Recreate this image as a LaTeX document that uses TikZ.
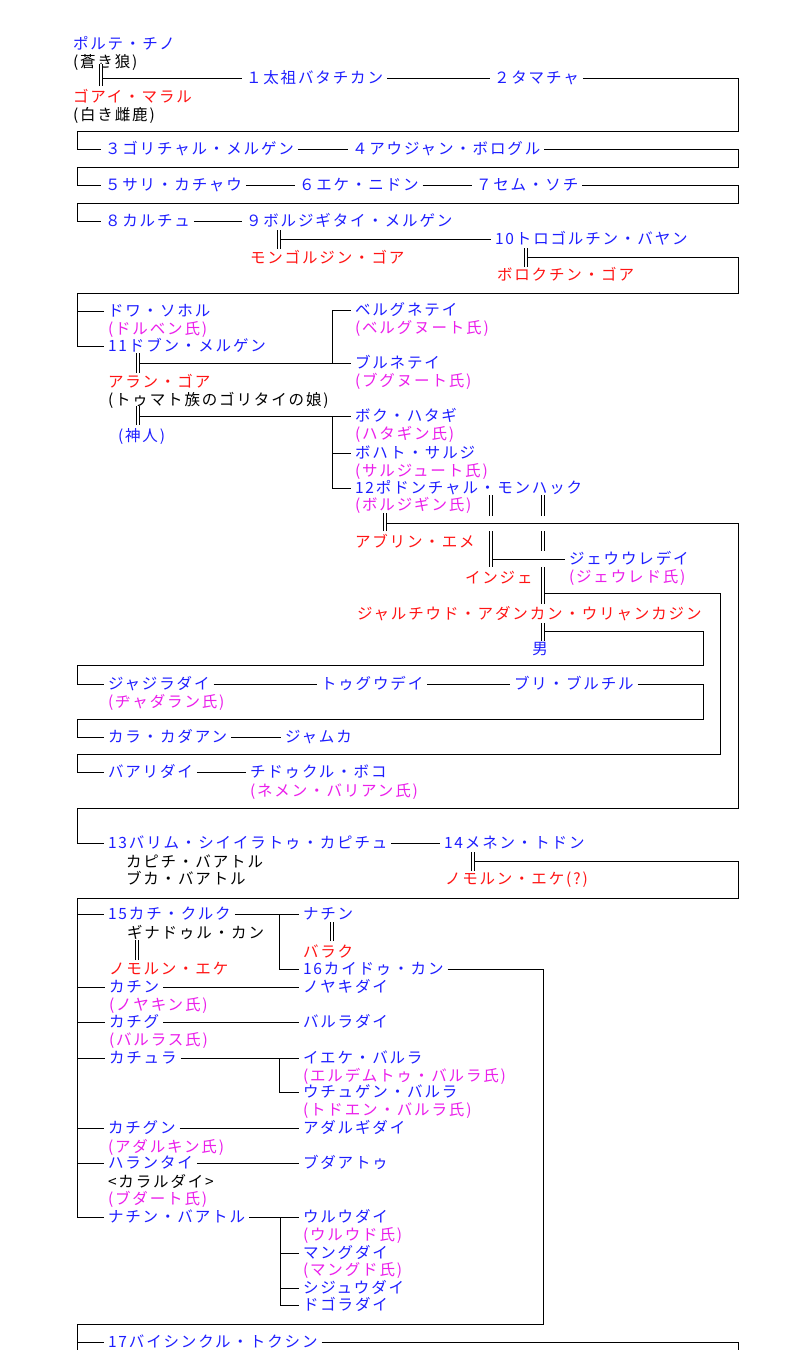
\documentclass[tikz,border=0pt]{standalone}
\usepackage{fontspec}
\newfontfamily\jp[LetterSpace=12]{Noto Sans CJK JP}
\definecolor{cb}{RGB}{30,30,255}
\definecolor{cr}{RGB}{255,20,20}
\definecolor{cm}{RGB}{235,30,235}
\tikzset{
  base/.style={anchor=west, inner xsep=4pt, inner ysep=0pt, outer sep=0pt,
    text height=13pt, text depth=2pt, font=\jp\fontsize{15.5pt}{18pt}\selectfont},
  nb/.style={base, text=cb},
  nr/.style={base, text=cr},
  nm/.style={base, text=cm},
  nk/.style={base, text=black},
  ln/.style={draw=black, line width=0.9pt},
  dbl/.style={draw=black, double=white, double distance=1.6pt, line width=0.8pt}
}
\begin{document}
\begin{tikzpicture}[x=1pt,y=-1pt]
\useasboundingbox (0,0) rectangle (800,1350);
\fill[white] (0,0) rectangle (800,1350);
\coordinate (L) at (77,0);
\coordinate (R) at (738,0);

% ================= NODES
% generations 1-10
\node[nb] (pc) at (69,44) {ポルテ・チノ};
\node[nk] (pcs) at (69,62) {(蒼き狼)};
\node[nr] (gm) at (69,97) {ゴアイ・マラル};
\node[nk] (gms) at (69,115) {(白き雌鹿)};
\coordinate (m0) at (101,78);
\node[nb] (g1) at (242,78) {１太祖バタチカン};
\node[nb] (g2) at (490,78) {２タマチャ};
\node[nb] (g3) at (101,149) {３ゴリチャル・メルゲン};
\node[nb] (g4) at (348,149) {４アウジャン・ボログル};
\node[nb] (g5) at (101,185) {５サリ・カチャウ};
\node[nb] (g6) at (295,185) {６エケ・ニドン};
\node[nb] (g7) at (472,185) {７セム・ソチ};
\node[nb] (g8) at (101,221) {８カルチュ};
\node[nb] (g9) at (242,221) {９ボルジギタイ・メルゲン};
\node[nr] (w9) at (246,258) {モンゴルジン・ゴア};
\coordinate (m9) at (279,239);
\node[nb] (g10) at (491,239) {10トロゴルチン・バヤン};
\node[nr] (w10) at (493,275) {ボロクチン・ゴア};
\coordinate (m10) at (526,257);

% Dobun Mergen
\node[nb] (d1) at (104,311) {ドワ・ソホル};
\node[nm] (d1s) at (104,329) {(ドルベン氏)};
\node[nb] (g11) at (104,346) {11ドブン・メルゲン};
\node[nr] (w11) at (104,382) {アラン・ゴア};
\node[nk] (w11s) at (104,400) {(トゥマト族のゴリタイの娘)};
\node[nb] (shin) at (114,436) {(神人)};
\coordinate (m11) at (138,363);
\coordinate (m11b) at (138,416);
\node[nb] (b1) at (351,310) {ベルグネテイ};
\node[nm] (b1s) at (351,328) {(ベルグヌート氏)};
\node[nb] (b2) at (351,363) {ブルネテイ};
\node[nm] (b2s) at (351,381) {(ブグヌート氏)};
\node[nb] (c1) at (351,416) {ボク・ハタギ};
\node[nm] (c1s) at (351,434) {(ハタギン氏)};
\node[nb] (c2) at (351,453) {ボハト・サルジ};
\node[nm] (c2s) at (351,471) {(サルジュート氏)};
\node[nb] (g12) at (351,488) {12ポドンチャル・モンハック};
\node[nm] (g12s) at (351,505) {(ボルジギン氏)};
\coordinate (j11) at (332,363);
\coordinate (j11b) at (332,416);

% Bodonchar
\coordinate (m12) at (385,523);
\coordinate (p2) at (491,559);
\coordinate (p3) at (543,593);
\coordinate (p4) at (543,631);
\node[nr] (w12) at (351,542) {アブリン・エメ};
\node[nr] (inje) at (461,578) {インジェ};
\node[nb] (jeu) at (565,559) {ジェウウレデイ};
\node[nm] (jeus) at (565,577) {(ジェウレド氏)};
\node[nr] (jar) at (353,614) {ジャルチウド・アダンカン・ウリャンカジン};
\node[nb, anchor=center] (otoko) at (540,649) {男};

% collateral lines
\node[nb] (j1) at (104,684) {ジャジラダイ};
\node[nm] (j1s) at (104,702) {(ヂャダラン氏)};
\node[nb] (j2) at (317,684) {トゥグウデイ};
\node[nb] (j3) at (510,684) {ブリ・ブルチル};
\node[nb] (k1) at (104,737) {カラ・カダアン};
\node[nb] (k2) at (281,737) {ジャムカ};
\node[nb] (l1) at (104,772) {バアリダイ};
\node[nb] (l2) at (246,772) {チドゥクル・ボコ};
\node[nm] (l2s) at (246,791) {(ネメン・バリアン氏)};

% 13 - 14
\node[nb] (g13) at (104,843) {13バリム・シイイラトゥ・カピチュ};
\node[nk] (g13a) at (122,862) {カピチ・バアトル};
\node[nk] (g13b) at (122,879) {ブカ・バアトル};
\node[nb] (g14) at (440,843) {14メネン・トドン};
\node[nr] (w14) at (441,879) {ノモルン・エケ(?)};
\coordinate (m14) at (473,861);

% 15 and brothers
\node[nb] (g15) at (104,914) {15カチ・クルク};
\node[nk] (g15a) at (123,933) {ギナドゥル・カン};
\node[nr] (w15) at (105,969) {ノモルン・エケ};
\coordinate (m15) at (137,950);
\node[nb] (nachin) at (299,914) {ナチン};
\node[nr] (baraku) at (299,952) {バラク};
\coordinate (m15b) at (332,932);
\node[nb] (g16) at (299,969) {16カイドゥ・カン};
\coordinate (j15) at (279,914);

\node[nb] (kachin) at (105,987) {カチン};
\node[nm] (kachins) at (105,1005) {(ノヤキン氏)};
\node[nb] (noyaki) at (299,987) {ノヤキダイ};
\node[nb] (kachigu) at (105,1022) {カチグ};
\node[nm] (kachigus) at (105,1040) {(バルラス氏)};
\node[nb] (barula) at (299,1022) {バルラダイ};
\node[nb] (kachura) at (105,1058) {カチュラ};
\node[nb] (ieke) at (299,1058) {イエケ・バルラ};
\node[nm] (iekes) at (299,1076) {(エルデムトゥ・バルラ氏)};
\node[nb] (uchu) at (299,1092) {ウチュゲン・バルラ};
\node[nm] (uchus) at (299,1110) {(トドエン・バルラ氏)};
\coordinate (j16) at (279,1058);
\node[nb] (kachigun) at (104,1128) {カチグン};
\node[nm] (kachiguns) at (104,1147) {(アダルキン氏)};
\node[nb] (adaru) at (299,1128) {アダルギダイ};
\node[nb] (haran) at (104,1163) {ハランタイ};
\node[nk] (harana) at (104,1182) {<カラルダイ>};
\node[nm] (harans) at (104,1199) {(ブダート氏)};
\node[nb] (buda) at (299,1163) {ブダアトゥ};
\node[nb] (nbt) at (104,1217) {ナチン・バアトル};
\node[nb] (uru) at (299,1217) {ウルウダイ};
\node[nm] (urus) at (299,1235) {(ウルウド氏)};
\node[nb] (mang) at (299,1253) {マングダイ};
\node[nm] (mangs) at (299,1270) {(マングド氏)};
\node[nb] (shiju) at (299,1288) {シジュウダイ};
\node[nb] (dogo) at (299,1305) {ドゴラダイ};
\coordinate (j17) at (280,1217);

% 17
\node[nb] (g17) at (104,1342) {17バイシンクル・トクシン};

% ================= CONNECTORS
\draw[ln] (m0) -- (g1.west);
\draw[ln] (g1.east) -- (g2.west);
\draw[ln] (g2.east) -| (738,131) -- (77,131) |- (g3.west);
\draw[ln] (g3.east) -- (g4.west);
\draw[ln] (g4.east) -| (738,167) -- (77,167) |- (g5.west);
\draw[ln] (g5.east) -- (g6.west);
\draw[ln] (g6.east) -- (g7.west);
\draw[ln] (g7.east) -| (738,203) -- (77,203) |- (g8.west);
\draw[ln] (g8.east) -- (g9.west);
\draw[ln] (m9) -- (g10.west);
\draw[ln] (m10) -| (738,293) -- (77,293) |- (g11.west);
\draw[dbl] ([yshift=-8pt]m0) -- ([yshift=14pt]m0);
\draw[dbl] ([yshift=-10pt]m9) -- ([yshift=9pt]m9);
\draw[dbl] ([yshift=-10pt]m10) -- ([yshift=9pt]m10);

\draw[ln] (d1.west) -- (d1.west -| L);
\draw[ln] (m11) -- (b2.west);
\draw[ln] (j11) |- (b1.west);
\draw[ln] (m11b) -- (c1.west);
\draw[ln] (j11b) |- (g12.west);
\draw[ln] (c2.west -| j11) -- (c2.west);
\draw[dbl] ([yshift=-10pt]m11) -- ([yshift=10pt]m11);
\draw[dbl] ([yshift=-9pt]m11b) -- ([yshift=10pt]m11b);

\draw[ln] (m12) -| (738,808) -- (77,808) |- (g13.west);
\draw[ln] (p2) -- (jeu.west);
\draw[ln] (p3) -| (720,754) -- (77,754) |- (l1.west);
\draw[ln] (p4) -| (703,665) -- (77,665) |- (j1.west);
\draw[dbl] ([yshift=-8pt]m12) -- ([yshift=10pt]m12);
\draw[dbl] (491,495) -- (491,516);
\draw[dbl] (491,531) -- (p2) -- (491,567);
\draw[dbl] (543,495) -- (543,516);
\draw[dbl] (543,531) -- (543,551);
\draw[dbl] (543,567) -- (p3) -- (543,604);
\draw[dbl] (543,623) -- (p4) -- (543,641);

\draw[ln] (j1.east) -- (j2.west);
\draw[ln] (j2.east) -- (j3.west);
\draw[ln] (j3.east) -| (703,719) -- (77,719) |- (k1.west);
\draw[ln] (k1.east) -- (k2.west);
\draw[ln] (l1.east) -- (l2.west);

\draw[ln] (g13.east) -- (g14.west);
\draw[ln] (m14) -| (738,898) -- (77,898) |- (nbt.west);
\draw[dbl] ([yshift=-10pt]m14) -- ([yshift=9pt]m14);

\draw[ln] (g15.west -| L) -- (g15.west);
\draw[ln] (g15.east) -- (nachin.west);
\draw[ln] (j15) |- (g16.west);
\draw[dbl] ([yshift=-10pt]m15) -- ([yshift=10pt]m15);
\draw[dbl] ([yshift=-9pt]m15b) -- ([yshift=10pt]m15b);
\draw[ln] (g16.east) -| (543,1324) -- (77,1324) -- (77,1350);

\draw[ln] (kachin.west -| L) -- (kachin.west);
\draw[ln] (kachin.east) -- (noyaki.west);
\draw[ln] (kachigu.west -| L) -- (kachigu.west);
\draw[ln] (kachigu.east) -- (barula.west);
\draw[ln] (kachura.west -| L) -- (kachura.west);
\draw[ln] (kachura.east) -- (ieke.west);
\draw[ln] (j16) |- (uchu.west);
\draw[ln] (kachigun.west -| L) -- (kachigun.west);
\draw[ln] (kachigun.east) -- (adaru.west);
\draw[ln] (haran.west -| L) -- (haran.west);
\draw[ln] (haran.east) -- (buda.west);
\draw[ln] (nbt.east) -- (uru.west);
\draw[ln] (j17) |- (dogo.west);
\draw[ln] (mang.west -| j17) -- (mang.west);
\draw[ln] (shiju.west -| j17) -- (shiju.west);

\draw[ln] (g17.west -| L) -- (g17.west);
\draw[ln] (g17.east) -| (738,1350);
\end{tikzpicture}
\end{document}
